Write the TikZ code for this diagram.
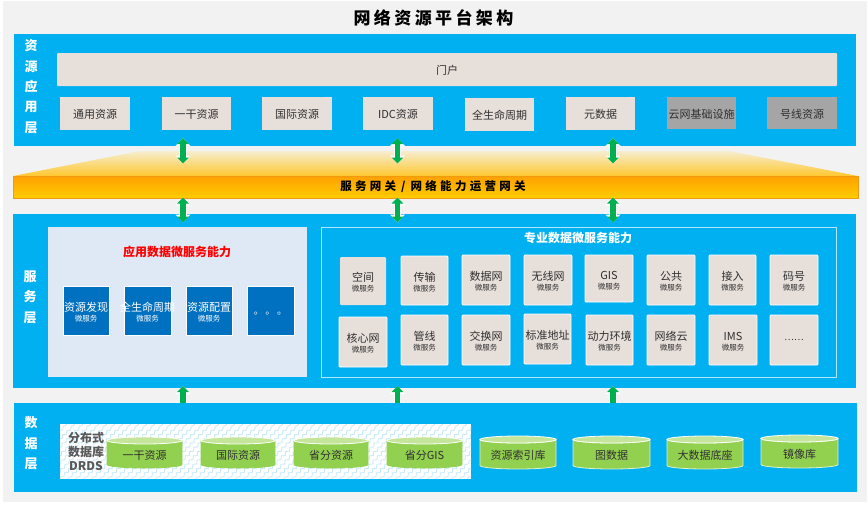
\documentclass[tikz,border=0pt]{standalone}
\usepackage{fontspec}
\setmainfont{Noto Sans CJK SC}
\usetikzlibrary{arrows.meta,decorations.pathmorphing}
\definecolor{panel}{HTML}{00B0F0}
\definecolor{paper}{HTML}{F2F2F2}
\definecolor{tile}{HTML}{E7DFDA}
\definecolor{greytile}{HTML}{A5A5A5}
\definecolor{bluetile}{HTML}{0070C0}
\definecolor{softblue}{HTML}{DEE9F5}
\definecolor{flow}{HTML}{00B050}
\definecolor{txt}{HTML}{303030}
\definecolor{cylside}{HTML}{92D050}
\definecolor{cyltop}{HTML}{C5E69A}
\definecolor{hatch}{HTML}{C4E8F8}
\definecolor{bartop}{HTML}{FFA000}
\definecolor{barbot}{HTML}{FFCC00}
\definecolor{bardraw}{HTML}{F09A10}
\definecolor{trtop}{HTML}{F7EDCF}
\definecolor{trbot}{HTML}{FFC830}
\newcommand{\fs}[1]{\fontsize{#1}{#1}\selectfont}
\tikzset{
  box/.style={rectangle,inner sep=0pt,outer sep=0pt,align=center},
  tilebox/.style={box,fill=tile,text=txt,font=\fs{11},execute at begin node={\rule{0pt}{11.7pt}}},
  greybox/.style={box,fill=greytile,text=txt,font=\fs{11},execute at begin node={\rule{0pt}{11.7pt}}},
  msbox/.style={box,fill=tile,draw=white,line width=0.8pt,rounded corners=1pt,text=txt},
  bluebox/.style={box,fill=bluetile,draw=white,line width=0.4pt,text=white},
  panelbox/.style={box,fill=panel},
  sidelabel/.style={text=white,font=\bfseries\fs{13},align=center,inner sep=0pt},
  cyllabel/.style={text=txt,font=\fs{11},inner sep=0pt},
  hatchline/.style={draw=hatch,line width=0.8pt,decorate,decoration={zigzag,segment length=6pt,amplitude=1.2pt}}
}
% name x1 y1 x2 y2 style text
\newcommand{\bx}[7]{%
  \pgfmathsetmacro{\bw}{#4-#2}\pgfmathsetmacro{\bh}{#5-#3}%
  \pgfmathsetmacro{\bcx}{(#2+#4)/2}\pgfmathsetmacro{\bcy}{(#3+#5)/2}%
  \node[#6,minimum width=\bw pt,minimum height=\bh pt] (#1) at (\bcx,\bcy) {#7};}
\newcommand{\ms}[2]{\rule{0pt}{12.5pt}\makebox[0pt][c]{\fs{11}#1}\\[-2pt]{\fs{7.5}#2}}
% cylinder: name x1 y1 x2 y2 text
\newcommand{\cyl}[7][cylside]{%
  \pgfmathsetmacro{\cx}{(#3+#5)/2}\pgfmathsetmacro{\ry}{3.5}%
  \pgfmathsetmacro{\rx}{(#5-#3)/2}%
  \pgfmathsetmacro{\ct}{#4+\ry}\pgfmathsetmacro{\cb}{#6-\ry}%
  \path[fill=cylside,draw=#1,line width=0.8pt] (#3,\ct) -- (#3,\cb) arc[start angle=180,end angle=360,x radius=\rx,y radius=-\ry] -- (#5,\ct) arc[start angle=0,end angle=180,x radius=\rx,y radius=\ry] -- cycle;
  \path[fill=cyltop,draw=white,line width=0.8pt] (\cx,\ct) ellipse[x radius=\rx,y radius=\ry];
  \pgfmathsetmacro{\cy}{(#4+#6)/2+3}%
  \node[cyllabel] (#2) at (\cx,\cy) {#7};}
% arrows
\newcommand{\flowup}[2]{%
  \draw[white,line width=7.5pt,-{Triangle[width=14.5pt,length=8pt]}] (#1) -- (#2);
  \draw[flow,line width=5.5pt,-{Triangle[width=11.5pt,length=6pt]}] (#1) -- (#2);}
\newcommand{\flowboth}[2]{%
  \draw[white,line width=7.5pt,{Triangle[width=14.5pt,length=8pt]}-{Triangle[width=14.5pt,length=8pt]}] (#1) -- (#2);
  \draw[flow,line width=5.5pt,{Triangle[width=11.5pt,length=6pt]}-{Triangle[width=11.5pt,length=6pt]}] (#1) -- (#2);}
\newcommand{\ga}{\hspace{3.4pt}}
\newcommand{\gb}{\hspace{3.3pt}}
\begin{document}
\begin{tikzpicture}[x=1pt,y=-1pt]
\useasboundingbox (0,0) rectangle (868,504);
\fill[white] (0,0) rectangle (868,504);
\fill[paper] (3,1) rectangle (867,502);
\node[text=black,font=\bfseries\fs{17}] (title) at (433.5,18) {网\ga 络\ga 资\ga 源\ga 平\ga 台\ga 架\ga 构};

% top panel
\bx{top}{14}{34}{856}{146}{panelbox}{}
\node[sidelabel] (l1a) at (31,46) {资};
\node[sidelabel] (l1b) at (31,67) {源};
\node[sidelabel] (l1c) at (31,87) {应};
\node[sidelabel] (l1d) at (31,107) {用};
\node[sidelabel] (l1e) at (31,128) {层};
\bx{portal}{57}{53}{837}{86}{tilebox,rounded corners=1pt}{门户}
\bx{r1}{60}{97}{130}{130}{tilebox}{通用资源}
\bx{r2}{162}{97}{231}{130}{tilebox}{一干资源}
\bx{r3}{262}{97}{332}{130}{tilebox}{国际资源}
\bx{r4}{363}{97}{433}{130}{tilebox}{IDC资源}
\bx{r5}{465}{98}{534}{131}{tilebox}{全生命周期}
\bx{r6}{566}{97}{635}{130}{tilebox}{元数据}
\bx{r7}{667}{97}{736}{129}{greybox}{云网基础设施}
\bx{r8}{767}{97}{837}{129}{greybox}{号线资源}

% gateway
\shade[top color=trtop,bottom color=trbot] (140,151) -- (729,151) -- (858,176) -- (13,176) -- cycle;
\bx{gw}{13}{176}{858}{198}{box,draw=bardraw,line width=0.6pt,top color=bartop,bottom color=barbot,font=\bfseries\fs{11.5}}{服\gb 务\gb 网\gb 关\hspace{5pt}/\hspace{5pt}网\gb 络\gb 能\gb 力\gb 运\gb 营\gb 网\gb 关\hspace{5pt}}

% service panel
\bx{svc}{13}{214}{856}{388}{panelbox}{}
\node[sidelabel] (l2a) at (30,277) {服};
\node[sidelabel] (l2b) at (30,297) {务};
\node[sidelabel] (l2c) at (30,318) {层};
\bx{app}{48}{227}{307}{377}{box,fill=softblue}{}
\node[text=red,font=\bfseries\fs{12},inner sep=0pt] (appt) at (177,252) {应用数据微服务能力};
\bx{a1}{63}{286}{109}{335}{bluebox}{\ms{资源发现}{微服务}}
\bx{a2}{124}{286}{171}{335}{bluebox}{\ms{全生命周期}{微服务}}
\bx{a3}{186}{286}{232}{335}{bluebox}{\ms{资源配置}{微服务}}
\bx{a4}{247}{286}{294}{335}{bluebox,font=\fs{10}}{\smash{\raisebox{-3.5pt}{。\,。\,。}}}
\bx{pro}{321}{227}{836}{377}{box,draw=white!70!panel,line width=0.8pt}{}
\node[text=white,font=\bfseries\fs{12},inner sep=0pt] (prot) at (578,238) {专业数据微服务能力};
\bx{m1}{340}{257}{386}{305}{msbox,draw=none}{\ms{空间}{微服务}}
\bx{m2}{401}{256}{448}{305}{msbox}{\ms{传输}{微服务}}
\bx{m3}{462}{255}{510}{305}{msbox}{\ms{数据网}{微服务}}
\bx{m4}{524}{255}{572}{305}{msbox}{\ms{无线网}{微服务}}
\bx{m5}{585}{255}{633}{302}{msbox}{\ms{GIS}{微服务}}
\bx{m6}{647}{255}{695}{305}{msbox}{\ms{公共}{微服务}}
\bx{m7}{709}{255}{756}{305}{msbox}{\ms{接入}{微服务}}
\bx{m8}{770}{255}{818}{305}{msbox}{\ms{码号}{微服务}}
\bx{n1}{339}{317}{387}{367}{msbox}{\ms{核心网}{微服务}}
\bx{n2}{401}{315}{448}{365}{msbox}{\ms{管线}{微服务}}
\bx{n3}{462}{315}{510}{365}{msbox}{\ms{交换网}{微服务}}
\bx{n4}{524}{314}{571}{364}{msbox}{\ms{标准地址}{微服务}}
\bx{n5}{586}{315}{633}{365}{msbox}{\ms{动力环境}{微服务}}
\bx{n6}{647}{315}{695}{365}{msbox}{\ms{网络云}{微服务}}
\bx{n7}{709}{315}{757}{365}{msbox}{\ms{IMS}{微服务}}
\bx{n8}{770}{315}{818}{365}{msbox,font=\fs{9}}{……}

% data panel
\bx{dat}{14}{403}{857}{492}{panelbox}{}
\node[sidelabel] (l3a) at (31,423) {数};
\node[sidelabel] (l3b) at (31,444) {据};
\node[sidelabel] (l3c) at (31,464) {层};
\bx{drds}{60}{424}{471}{479}{box,fill=white}{}
\begin{scope}
\clip (60,424) rectangle (471,479);
\foreach \k in {-56,-48,...,416} \draw[hatchline] (60+\k,479) -- (115+\k,424);
\end{scope}
\node[text=black!65,font=\bfseries\fs{12},align=center,inner sep=0pt] (drdst) at (86,451) {分布式\\[2pt]数据库\\[2pt]DRDS};
\cyl{c1}{107}{437}{182}{468}{一干资源}
\cyl{c2}{201}{437}{275}{468}{国际资源}
\cyl{c3}{294}{437}{368}{468}{省分资源}
\cyl{c4}{387}{437}{462}{468}{省分GIS}
\cyl[white!70!cylside]{c5}{480}{436}{556}{469}{资源索引库}
\cyl[white!70!cylside]{c6}{573}{436}{650}{469}{图数据}
\cyl[white!70!cylside]{c7}{667}{436}{743}{469}{大数据底座}
\cyl[white!70!cylside]{c8}{761}{435}{838}{468}{镜像库}

% connectors
\coordinate (u1a) at (183,138); \coordinate (u1b) at (183,163.5);
\coordinate (u2a) at (397.5,138); \coordinate (u2b) at (397.5,163.5);
\coordinate (u3a) at (613,138); \coordinate (u3b) at (613,163.5);
\coordinate (v1a) at (183,197.5); \coordinate (v1b) at (183,222.5);
\coordinate (v2a) at (397.5,197.5); \coordinate (v2b) at (397.5,222.5);
\coordinate (v3a) at (613,197.5); \coordinate (v3b) at (613,222.5);
\coordinate (w1a) at (183,403); \coordinate (w1b) at (183,386);
\coordinate (w2a) at (397.5,403); \coordinate (w2b) at (397.5,386);
\coordinate (w3a) at (613,403); \coordinate (w3b) at (613,386);
\flowboth{u1a}{u1b}\flowboth{u2a}{u2b}\flowboth{u3a}{u3b}
\flowboth{v1a}{v1b}\flowboth{v2a}{v2b}\flowboth{v3a}{v3b}
\flowup{w1a}{w1b}\flowup{w2a}{w2b}\flowup{w3a}{w3b}
\end{tikzpicture}
\end{document}
